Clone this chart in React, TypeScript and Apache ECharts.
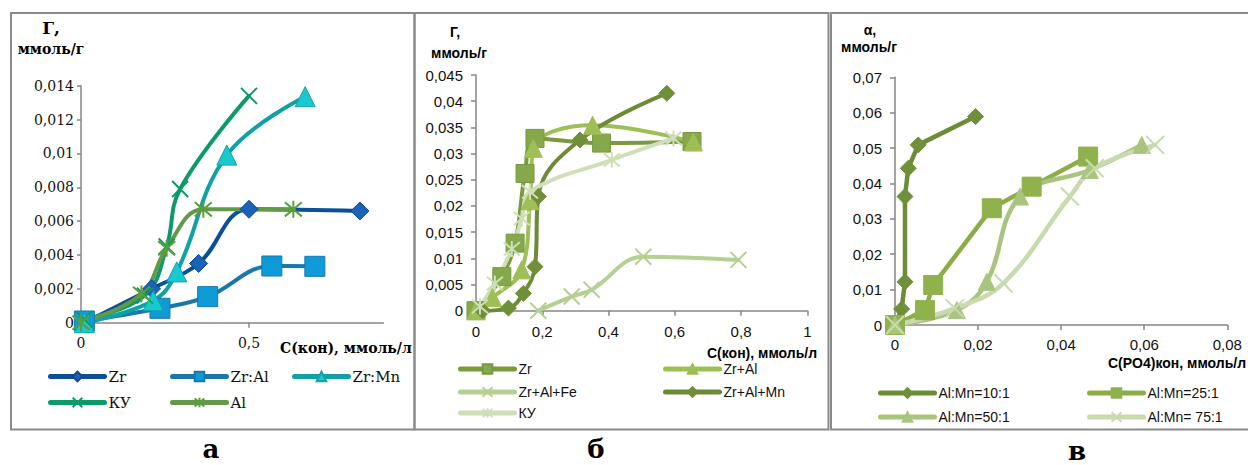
import React, { useEffect, useRef } from "react";
import * as echarts from "echarts";

// ---------- Panel а ----------
const aZr = [[0.01, 0], [0.21, 0.002], [0.35, 0.0035], [0.5, 0.0067], [0.83, 0.0066]];
const aZrAl = [[0.01, 0.0001], [0.235, 0.00085], [0.377, 0.00154], [0.568, 0.00335], [0.696, 0.00333]];
const aZrMn = [[0.01, 0], [0.215, 0.0013], [0.285, 0.003], [0.434, 0.0099], [0.667, 0.01335]];
const aKU = [[0.01, 0.0002], [0.19, 0.0016], [0.255, 0.0045], [0.295, 0.0079], [0.5, 0.0134]];
const aAl = [[0, 0], [0.18, 0.0017], [0.255, 0.0044], [0.364, 0.0067], [0.632, 0.0067]];
const aXTicks = [0, 0.5];

// ---------- Panel б ----------
const bZr = [[0, 0], [0.078, 0.0065], [0.118, 0.0129], [0.148, 0.0262], [0.178, 0.0329], [0.379, 0.032], [0.652, 0.0323]];
const bZrAl = [[0, 0], [0.05, 0.0025], [0.138, 0.0078], [0.163, 0.021], [0.173, 0.031], [0.352, 0.0354], [0.656, 0.0322]];
const bZrAlFe = [[0.188, 0], [0.289, 0.0027], [0.349, 0.004], [0.505, 0.0103], [0.792, 0.0097]];
const bZrAlMn = [[0.02, 0], [0.098, 0.0005], [0.143, 0.0033], [0.178, 0.0084], [0.188, 0.0218], [0.314, 0.0326], [0.576, 0.0415]];
const bKU = [[0.012, 0.0008], [0.057, 0.0052], [0.108, 0.0118], [0.138, 0.0176], [0.163, 0.0227], [0.41, 0.0288], [0.596, 0.0329]];

// ---------- Panel в ----------
const c10 = [[0, 0], [0.0016, 0.0045], [0.0024, 0.0122], [0.0024, 0.0363], [0.0032, 0.0443], [0.0056, 0.0509], [0.0194, 0.0589]];
const c25 = [[0, 0], [0.0072, 0.0042], [0.0092, 0.0113], [0.0233, 0.033], [0.0329, 0.0391], [0.0465, 0.0476]];
const c50 = [[0, 0], [0.0149, 0.0042], [0.0221, 0.0122], [0.0301, 0.0363], [0.0469, 0.0438], [0.0594, 0.0509]];
const c75 = [[0, 0], [0.0144, 0.0047], [0.0261, 0.0118], [0.0421, 0.0363], [0.0481, 0.0443], [0.0626, 0.0509]];

const SERIF = '"DejaVu Serif", serif';
const SANS = '"Liberation Sans", Arial, sans-serif';
const X_PATH = "path://M0,0L10,10M10,0L0,10";
const AST_PATH = "path://M0,0L10,10M10,0L0,10M5,-1L5,11";

const fmt = (v: number) => String(parseFloat(Number(v).toFixed(4))).replace(".", ",");

type S = {
  name: string; data: number[][]; idx: number; line: string; fill: string; border?: string;
  symbol: string; size: number; smooth: number | boolean; stroke?: boolean; width?: number;
};

function mk(s: S) {
  const stroke = !!s.stroke;
  return {
    type: "line",
    name: s.name,
    data: s.data,
    xAxisIndex: s.idx,
    yAxisIndex: s.idx,
    smooth: s.smooth,
    symbol: s.symbol,
    symbolSize: s.size,
    showSymbol: true,
    clip: false,
    lineStyle: { color: s.line, width: s.width ?? 4, cap: "round", join: "round" },
    itemStyle: stroke
      ? { color: s.fill, borderColor: s.fill, borderWidth: 2 }
      : { color: s.fill, borderColor: s.border ?? s.fill, borderWidth: 1 },
    emphasis: { disabled: true },
  };
}

export default function App() {
  const ref = useRef<HTMLDivElement>(null);
  useEffect(() => {
    if (!ref.current) return;
    const chart = echarts.init(ref.current, undefined, { renderer: "svg" });

    const axisLine = { show: true, lineStyle: { color: "#868686", width: 1.5 } };
    const tick = { show: true, length: 5, lineStyle: { color: "#868686", width: 1.5 } };

    const grids = [
      { left: 81, top: 85.7, width: 302.4, height: 237 },
      { left: 476, top: 75, width: 331.3, height: 235.7 },
      { left: 895, top: 77.3, width: 332.3, height: 247.7 },
    ];

    const xAxes = [
      {
        gridIndex: 0, type: "value", min: 0, max: 0.9,
        axisLine, axisTick: { ...tick, customValues: aXTicks }, splitLine: { show: false },
        axisLabel: { customValues: aXTicks, formatter: fmt, fontFamily: SERIF, fontSize: 14, color: "#111", margin: 13 },
      },
      {
        gridIndex: 1, type: "value", min: 0, max: 1, interval: 0.2,
        axisLine, axisTick: tick, splitLine: { show: false },
        axisLabel: { formatter: fmt, fontFamily: SANS, fontSize: 15, color: "#111", margin: 13 },
      },
      {
        gridIndex: 2, type: "value", min: 0, max: 0.08, interval: 0.02,
        axisLine, axisTick: tick, splitLine: { show: false },
        axisLabel: { formatter: fmt, fontFamily: SANS, fontSize: 15, color: "#111", margin: 12 },
      },
    ];
    const yAxes = [
      {
        gridIndex: 0, type: "value", min: 0, max: 0.014, interval: 0.002,
        axisLine, axisTick: { ...tick, length: 4 }, splitLine: { show: false },
        axisLabel: { formatter: fmt, fontFamily: SERIF, fontSize: 14, color: "#111", margin: 7 },
      },
      {
        gridIndex: 1, type: "value", min: 0, max: 0.045, interval: 0.005,
        axisLine, axisTick: tick, splitLine: { show: false },
        axisLabel: { formatter: fmt, fontFamily: SANS, fontSize: 15, color: "#111", margin: 13 },
      },
      {
        gridIndex: 2, type: "value", min: 0, max: 0.07, interval: 0.01,
        axisLine, axisTick: tick, splitLine: { show: false },
        axisLabel: { formatter: fmt, fontFamily: SANS, fontSize: 15, color: "#111", margin: 13 },
      },
    ];

    const series = [
      mk({ name: "Zr|a", data: aZr, idx: 0, line: "#0b4f96", fill: "#1a63b8", border: "#0d4a8e", symbol: "diamond", size: 18, smooth: 0.4 }),
      mk({ name: "Zr:Al|a", data: aZrAl, idx: 0, line: "#1878a9", fill: "#0f9bd8", border: "#1479ad", symbol: "rect", size: 20, smooth: 0.4 }),
      mk({ name: "Zr:Mn|a", data: aZrMn, idx: 0, line: "#0ea2a6", fill: "#1ac8d0", border: "#10a3a8", symbol: "triangle", size: 20, smooth: 0.4 }),
      mk({ name: "КУ|a", data: aKU, idx: 0, line: "#0c9a6c", fill: "#0c9a6c", symbol: X_PATH, size: 16, smooth: 0.4, stroke: true }),
      mk({ name: "Al|a", data: aAl, idx: 0, line: "#62994a", fill: "#5a9e3a", symbol: AST_PATH, size: 17, smooth: 0.4, stroke: true }),

      mk({ name: "Zr|b", data: bZr, idx: 1, line: "#7a9a3d", fill: "#85a84a", border: "#789a3e", symbol: "rect", size: 18, smooth: 0.4 }),
      mk({ name: "Zr+Al|b", data: bZrAl, idx: 1, line: "#9dbf55", fill: "#9dbf55", symbol: "triangle", size: 18, smooth: 0.4 }),
      mk({ name: "Zr+Al+Fe|b", data: bZrAlFe, idx: 1, line: "#b6cf92", fill: "#b6cf92", symbol: X_PATH, size: 16, smooth: 0.4, stroke: true }),
      mk({ name: "Zr+Al+Mn|b", data: bZrAlMn, idx: 1, line: "#6d8b37", fill: "#6f8f38", symbol: "diamond", size: 16, smooth: 0.4 }),
      mk({ name: "КУ|b", data: bKU, idx: 1, line: "#cfdfb7", fill: "#cfdfb7", symbol: AST_PATH, size: 16, smooth: 0.4, stroke: true }),

      mk({ name: "Al:Mn=10:1", data: c10, idx: 2, line: "#6c8d36", fill: "#6f8f38", symbol: "diamond", size: 16, smooth: false, width: 4.5 }),
      mk({ name: "Al:Mn=25:1", data: c25, idx: 2, line: "#8cad45", fill: "#8fb24c", symbol: "rect", size: 19, smooth: false, width: 4.5 }),
      mk({ name: "Al:Mn=50:1", data: c50, idx: 2, line: "#a9c47f", fill: "#a9c47f", symbol: "triangle", size: 17, smooth: 0.4, width: 4.5 }),
      mk({ name: "Al:Mn= 75:1", data: c75, idx: 2, line: "#c8daae", fill: "#c8daae", symbol: X_PATH, size: 18, smooth: 0.4, stroke: true, width: 4.5 }),
    ];

    const legendItems = [
      { name: "Zr|a", left: 48, cy: 377, font: SERIF, size: 15 },
      { name: "Zr:Al|a", left: 170, cy: 377, font: SERIF, size: 15 },
      { name: "Zr:Mn|a", left: 292, cy: 377, font: SERIF, size: 15 },
      { name: "КУ|a", left: 48, cy: 403, font: SERIF, size: 15 },
      { name: "Al|a", left: 170, cy: 403, font: SERIF, size: 15 },
      { name: "Zr|b", left: 458, cy: 370, font: SANS, size: 14 },
      { name: "Zr+Al|b", left: 663, cy: 370, font: SANS, size: 14 },
      { name: "Zr+Al+Fe|b", left: 458, cy: 393, font: SANS, size: 14 },
      { name: "Zr+Al+Mn|b", left: 663, cy: 393, font: SANS, size: 14 },
      { name: "КУ|b", left: 458, cy: 414, font: SANS, size: 14 },
      { name: "Al:Mn=10:1", left: 878, cy: 394, font: SANS, size: 14 },
      { name: "Al:Mn=25:1", left: 1087, cy: 394, font: SANS, size: 14 },
      { name: "Al:Mn=50:1", left: 878, cy: 418, font: SANS, size: 14 },
      { name: "Al:Mn= 75:1", left: 1087, cy: 418, font: SANS, size: 14 },
    ];
    const legend = legendItems.map((it) => ({
      data: [it.name],
      left: it.left,
      top: it.cy - 8,
      padding: 0,
      itemWidth: 54,
      itemHeight: 12,
      itemGap: 0,
      selectedMode: false,
      lineStyle: { width: 5 },
      formatter: (n: string) => n.split("|")[0],
      textStyle: { fontFamily: it.font, fontSize: it.size, color: "#111", padding: [0, 0, 0, -1] },
    }));

    const frame = (x: number, w: number) => ({
      type: "rect", shape: { x, y: 13, width: w, height: 416.5 },
      style: { fill: "none", stroke: "#8a8a8a", lineWidth: 2 }, silent: true,
    });
    const txt = (x: number, y: number, text: string, font: string, align = "center") => ({
      type: "text", x, y, silent: true,
      style: { text, font, fill: "#000", align, verticalAlign: "middle" },
    });

    const graphic = [
      frame(11, 403.5),
      frame(414.5, 414),
      frame(831, 420),
      txt(51, 28, "Г,", `bold 17px ${SERIF}`),
      txt(51, 49, "ммоль/г", `bold 14px ${SERIF}`),
      txt(280, 348, "С(кон), ммоль/л", `bold 14px ${SERIF}`, "left"),
      txt(455, 32, "Г,", `bold 14px ${SANS}`),
      txt(459, 53, "ммоль/г", `bold 14px ${SANS}`),
      txt(707, 353, "С(кон), ммоль/л", `bold 14px ${SANS}`, "left"),
      txt(870, 30, "α,", `bold 14px ${SANS}`),
      txt(869, 47, "ммоль/г", `bold 14px ${SANS}`),
      txt(1108, 363, "C(PO4)кон, ммоль/л", `bold 14px ${SANS}`, "left"),
      txt(211, 449, "а", `bold 26px ${SERIF}`),
      txt(596, 449, "б", `bold 26px ${SERIF}`),
      txt(1077, 451, "в", `bold 26px ${SERIF}`),
    ];

    chart.setOption({
      animation: false,
      backgroundColor: "#ffffff",
      grid: grids,
      xAxis: xAxes,
      yAxis: yAxes,
      legend,
      series,
      graphic,
    });
    return () => chart.dispose();
  }, []);

  return (
    <div
      ref={ref}
      style={{ position: "absolute", left: 0, top: 0, width: 1248, height: 465 }}
    />
  );
}
